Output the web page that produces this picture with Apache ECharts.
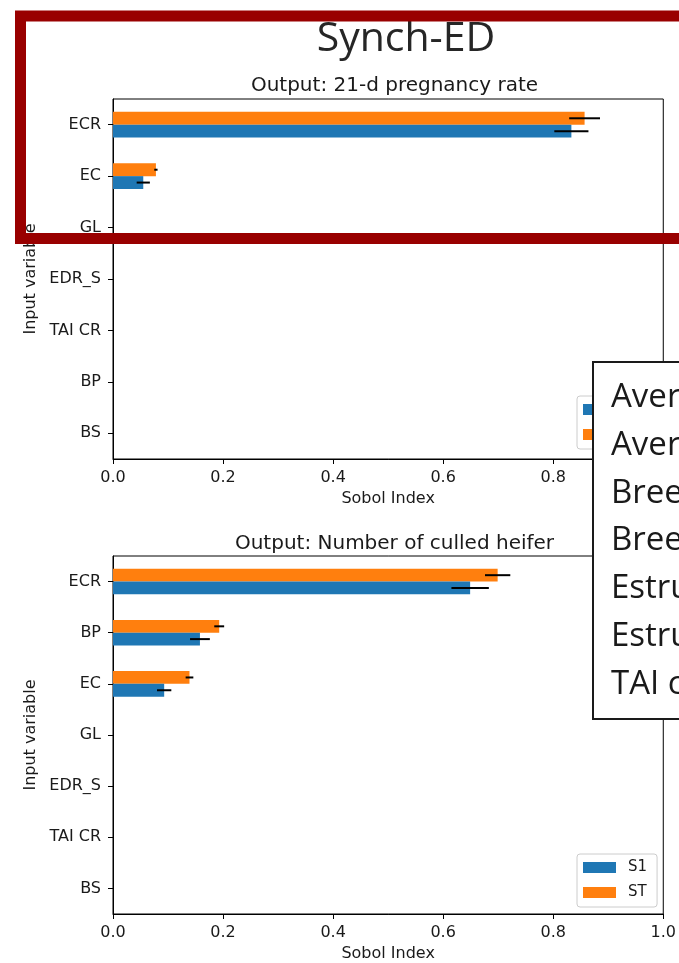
<!DOCTYPE html>
<html>
<head>
<meta charset="utf-8">
<script src="https://cdn.jsdelivr.net/npm/echarts@6/dist/echarts.min.js"></script>
<style>
  html, body { margin: 0; padding: 0; background: #fff; }
  #chart { width: 679px; height: 963px; }
</style>
</head>
<body>
<div id="chart"></div>
<script>
// ---- data: Sobol sensitivity indices (first order S1, total ST) ----
const topTitle = 'Output: 21-d pregnancy rate';
const topCats = ['ECR', 'EC', 'GL', 'EDR_S', 'TAI CR', 'BP', 'BS'];
const topS1 = [0.833, 0.055, 0, 0, 0, 0, 0];
const topS1Err = [0.031, 0.012, 0, 0, 0, 0, 0];
const topST = [0.857, 0.078, 0, 0, 0, 0, 0];
const topSTErr = [0.028, 0.003, 0, 0, 0, 0, 0];

const botTitle = 'Output: Number of culled heifer';
const botCats = ['ECR', 'BP', 'EC', 'GL', 'EDR_S', 'TAI CR', 'BS'];
const botS1 = [0.649, 0.158, 0.093, 0, 0, 0, 0];
const botS1Err = [0.034, 0.018, 0.013, 0, 0, 0, 0];
const botST = [0.699, 0.193, 0.139, 0, 0, 0, 0];
const botSTErr = [0.023, 0.009, 0.007, 0, 0, 0, 0];

const xTicks = [0, 0.2, 0.4, 0.6, 0.8, 1.0];
const seriesNames = ['S1', 'ST'];
const slideTitle = 'Synch-ED';
const noteLines = [
  'Average estrous cycle length',
  'Average gestation length',
  'Breeding period',
  'Breeding season start',
  'Estrus conception rate',
  'Estrus detection rate',
  'TAI conception rate'
];

// ---- styling ----
const BLUE = '#1f77b4';
const ORANGE = '#ff7f0e';
const FONT = 'DejaVu Sans';
const INK = '#1a1a1a';
const SLIDE_FONT = '"Open Sans", "Noto Sans", sans-serif';

const chart = echarts.init(document.getElementById('chart'), null, { renderer: 'canvas' });

const grids = [
  { left: 113, top: 99, width: 553, height: 360 },
  { left: 113, top: 556, width: 553, height: 359 }
];

function xAxisFor(i) {
  return {
    gridIndex: i, type: 'value', min: 0, max: 1, interval: 0.2,
    name: 'Sobol Index', nameLocation: 'middle', nameGap: 32,
    nameTextStyle: { fontFamily: FONT, fontSize: 16, color: INK },
    axisLine: { show: true, lineStyle: { color: '#000', width: 1 } },
    axisTick: { show: true, length: 5, lineStyle: { color: '#000' } },
    axisLabel: {
      fontFamily: FONT, fontSize: 16, color: INK, margin: 11,
      formatter: v => xTicks.includes(+v.toFixed(1)) ? v.toFixed(1) : ''
    },
    splitLine: { show: false }
  };
}

function yAxisFor(i, cats) {
  return {
    gridIndex: i, type: 'category', data: cats, inverse: true,
    name: 'Input variable', nameLocation: 'middle', nameGap: 70, nameRotate: 90,
    nameTextStyle: { fontFamily: FONT, fontSize: 16, color: INK },
    axisLine: { show: true, lineStyle: { color: '#000', width: 1 } },
    axisTick: { show: true, length: 5, alignWithLabel: true, lineStyle: { color: '#000' } },
    axisLabel: { fontFamily: FONT, fontSize: 16, color: INK, margin: 12 },
    splitLine: { show: false }
  };
}

// horizontal error bar centred on its own bar (offset is a fraction of the band)
function errorBar(offsetFrac) {
  return function (params, api) {
    const v = api.value(0), c = api.value(1), e = api.value(2);
    if (!e) return null;
    const band = api.size([0, 1])[1];
    const y = api.coord([v, c])[1] + offsetFrac * band;
    const a = api.coord([v - e, c]);
    const b = api.coord([v + e, c]);
    return {
      type: 'line',
      shape: { x1: a[0], y1: y, x2: b[0], y2: y },
      style: { stroke: '#000', lineWidth: 2 }
    };
  };
}

function barSeries(i, name, vals, color) {
  return {
    type: 'bar', name: name, xAxisIndex: i, yAxisIndex: i,
    data: vals, barWidth: '25%', barGap: '0%',
    itemStyle: { color: color }, z: 2
  };
}

function errSeries(i, cats, vals, errs, offsetFrac) {
  return {
    type: 'custom', xAxisIndex: i, yAxisIndex: i,
    renderItem: errorBar(offsetFrac),
    data: cats.map((c, k) => [vals[k], c, errs[k]]),
    encode: { x: 0, y: 1 }, z: 5, silent: true
  };
}

function legendFor(top) {
  return {
    data: seriesNames, orient: 'vertical', left: 577, top: top,
    icon: 'rect', itemWidth: 33, itemHeight: 11, itemGap: 10,
    padding: [6, 10, 7, 6],
    borderColor: '#cccccc', borderWidth: 1, borderRadius: 3,
    backgroundColor: 'rgba(255,255,255,0.8)',
    textStyle: { fontFamily: FONT, fontSize: 15, color: INK, padding: [0, 0, 0, 7] },
    selectedMode: false
  };
}

const option = {
  backgroundColor: '#ffffff',
  animation: false,
  title: [
    { text: topTitle, left: 389.5, top: 71, textAlign: 'center',
      textStyle: { fontFamily: FONT, fontSize: 20, fontWeight: 'normal', color: INK } },
    { text: botTitle, left: 389.5, top: 529, textAlign: 'center',
      textStyle: { fontFamily: FONT, fontSize: 20, fontWeight: 'normal', color: INK } }
  ],
  grid: grids.map(g => Object.assign({ show: true, borderColor: '#000', borderWidth: 1, backgroundColor: 'transparent' }, g)),
  xAxis: [xAxisFor(0), xAxisFor(1)],
  yAxis: [yAxisFor(0, topCats), yAxisFor(1, botCats)],
  legend: [legendFor(396), legendFor(854)],
  series: [
    barSeries(0, 'ST', topST, ORANGE),
    barSeries(0, 'S1', topS1, BLUE),
    errSeries(0, topCats, topST, topSTErr, -0.125),
    errSeries(0, topCats, topS1, topS1Err, 0.125),
    barSeries(1, 'ST', botST, ORANGE),
    barSeries(1, 'S1', botS1, BLUE),
    errSeries(1, botCats, botST, botSTErr, -0.125),
    errSeries(1, botCats, botS1, botS1Err, 0.125)
  ],
  graphic: [
    // slide heading
    { type: 'text', z: 100, silent: true,
      style: { text: slideTitle, x: 406, y: 39, align: 'center', verticalAlign: 'middle',
        font: '41px ' + SLIDE_FONT, fill: '#262626' } },
    // dark red frame around the first panel
    { type: 'rect', z: 100, silent: true,
      shape: { x: 20.5, y: 16, width: 720, height: 222.5 },
      style: { fill: 'none', stroke: '#990000', lineWidth: 11 } },
    // variable key box
    { type: 'rect', z: 100, silent: true,
      shape: { x: 593, y: 362, width: 200, height: 357 },
      style: { fill: '#ffffff', stroke: '#1a1a1a', lineWidth: 2 } }
  ].concat(noteLines.map((t, k) => ({
    type: 'text', z: 101, silent: true,
    style: { text: t, x: 611, y: 397.5 + k * 47.8, verticalAlign: 'middle',
      font: '33px ' + SLIDE_FONT, fill: INK }
  })))
};

chart.setOption(option);
</script>
</body>
</html>
